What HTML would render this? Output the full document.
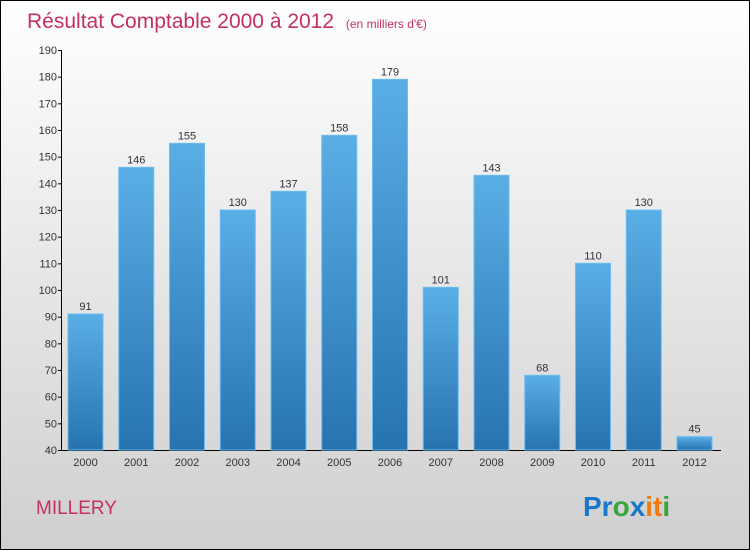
<!DOCTYPE html>
<html><head><meta charset="utf-8"><style>
body{margin:0}
svg{display:block;font-family:"Liberation Sans",sans-serif}
</style></head><body>
<svg id="c" width="750" height="550">
<defs>
<linearGradient id="bg" x1="0" y1="0" x2="0" y2="1"><stop offset="0" stop-color="#ffffff"/><stop offset="1" stop-color="#cfcfcf"/></linearGradient>
<linearGradient id="bar" x1="0" y1="0" x2="0" y2="1"><stop offset="0" stop-color="#5aaee6"/><stop offset="1" stop-color="#2673b0"/></linearGradient>
</defs>
<rect x="0.5" y="0.5" width="749" height="549" fill="url(#bg)" stroke="#000"/>
<text x="27" y="28" font-size="21" fill="#c4305f">Résultat Comptable 2000 à 2012 <tspan font-size="12" dx="6">(en milliers d'€)</tspan></text>
<text x="36" y="514" font-size="19" fill="#c4305f">MILLERY</text>
<g font-size="28" font-weight="bold">
<text x="583" y="516"><tspan fill="#1a78c8">Pr</tspan><tspan fill="#3aa53a">o</tspan><tspan fill="#1a78c8">x</tspan><tspan fill="#f07a10">i</tspan><tspan fill="#f07a10">t</tspan><tspan fill="#3aa53a">i</tspan></text>
</g>
<g id="axes"></g>
<g id="bars"></g>
</svg>
<script>
const categories=["2000","2001","2002","2003","2004","2005","2006","2007","2008","2009","2010","2011","2012"];
const values=[91,146,155,130,137,158,179,101,143,68,110,130,45];
const yTicks=[40,50,60,70,80,90,100,110,120,130,140,150,160,170,180,190];
const NS="http://www.w3.org/2000/svg";
const y0=40,y1=190,py0=450,py1=50;
function y(v){return py0-(v-y0)/(y1-y0)*(py0-py1);}
function x(i){return 85.5+i*50.75;}
function mk(t,a,p){const e=document.createElementNS(NS,t);for(const k in a)e.setAttribute(k,a[k]);p.appendChild(e);return e;}
const ax=document.getElementById('axes'),bg=document.getElementById('bars');
const yl=mk('line',{x1:61.5,y1:50,x2:61.5,y2:450,stroke:'#000'},ax);


const xl=mk('line',{x1:61,y1:450.5,x2:721,y2:450.5,stroke:'#000'},ax);


yTicks.forEach(v=>{
 const l=mk('line',{x1:58,x2:62,y1:y(v)+.5,y2:y(v)+.5,stroke:'#000'},ax);
 
 
 const t=mk('text',{x:57,y:y(v)+4,'text-anchor':'end','font-size':11,fill:'#333'},ax);
 t.textContent=v;
 
 
});
categories.forEach((c,i)=>{
 const v=values[i],cx=x(i),top=y(v);
 const r=mk('rect',{x:cx-17.5,y:top,width:35,height:py0-top,fill:'url(#bar)',stroke:'#6bbcf0','stroke-width':1},bg);
 
 
 const t=mk('text',{x:cx,y:top-4,'text-anchor':'middle','font-size':11,fill:'#333'},bg);
 t.textContent=v;
 
 
 const k=mk('text',{x:cx,y:466,'text-anchor':'middle','font-size':11,fill:'#333'},ax);
 k.textContent=c;
 
 
});
</script>
</body></html>
